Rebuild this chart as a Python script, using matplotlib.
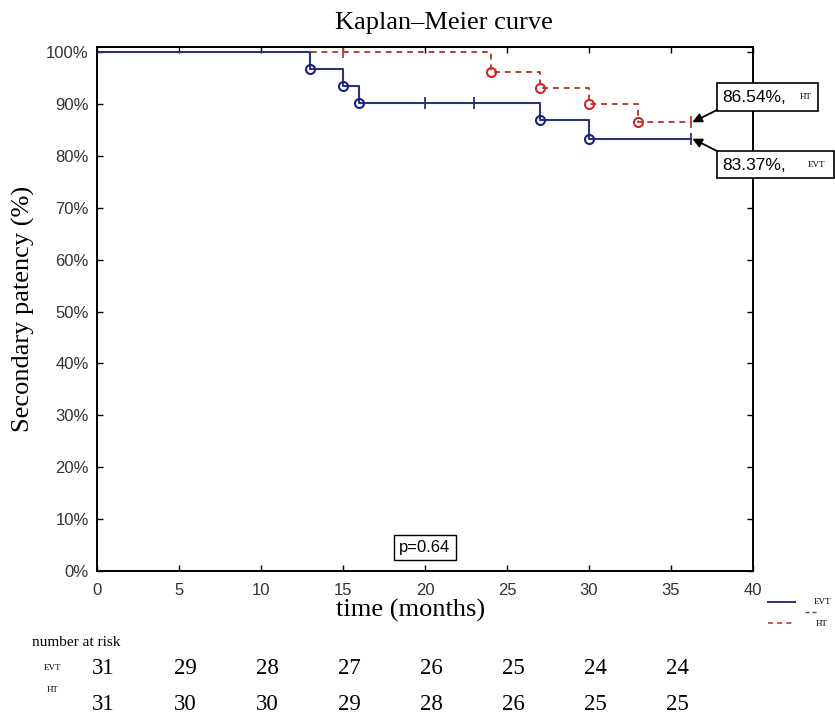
import matplotlib
matplotlib.use('Agg')
import matplotlib.pyplot as plt
from matplotlib.patches import Rectangle
from matplotlib.transforms import blended_transform_factory

# survival curves (Kaplan-Meier)
evt_times = [0, 13, 15, 16, 27, 30]
evt_surv = [100, 96.77, 93.55, 90.32, 86.96, 83.37]
evt_cens_t = [20, 23, 36.2]
evt_end = 36.2

ht_times = [0, 24, 27, 30, 33]
ht_surv = [100, 96.3, 93.2, 90.0, 86.54]
ht_cens_t = [15, 36.2]
ht_end = 36.2

risk_times = [0, 5, 10, 15, 20, 25, 30, 35]
risk_evt = [31, 29, 28, 27, 26, 25, 24, 24]
risk_ht = [31, 30, 30, 29, 28, 26, 25, 25]

W, H = 835, 716
BLUE = '#2c3477'
RED = '#b5403c'
SERIF = ['Liberation Serif', 'DejaVu Serif']
SANS = ['Liberation Sans', 'DejaVu Sans']


def fx(x):
    return x / W


def fy(y):
    return 1 - y / H


def surv_at(times, surv, t):
    s = surv[0]
    for tt, ss in zip(times, surv):
        if tt <= t:
            s = ss
    return s


fig = plt.figure(figsize=(W / 100, H / 100), dpi=100)
ax = fig.add_axes([fx(97), fy(570.7), fx(753) - fx(97), fy(47.3) - fy(570.7)])

# HT (dashed red) first, EVT on top
ax.step(ht_times + [ht_end], ht_surv + [ht_surv[-1]], where='post',
        color=RED, lw=1.4, ls=(0, (3, 2.5)))
ax.plot(ht_times[1:], ht_surv[1:], 'o', ms=6.5, mfc='none', mec='#cc2a2a', mew=1.5)
ax.plot(ht_cens_t, [surv_at(ht_times, ht_surv, t) for t in ht_cens_t], '|',
        color=RED, ms=9, mew=1.3)

ax.step(evt_times + [evt_end], evt_surv + [evt_surv[-1]], where='post',
        color=BLUE, lw=1.5)
ax.plot(evt_times[1:], evt_surv[1:], 'o', ms=6.5, mfc='none', mec='#1c1f8a', mew=1.5)
ax.plot(evt_cens_t, [surv_at(evt_times, evt_surv, t) for t in evt_cens_t], '|',
        color=BLUE, ms=9, mew=1.3)

ax.set_xlim(0, 40)
ax.set_ylim(0, 101)
ax.set_xticks(range(0, 41, 5))
ax.set_yticks(range(0, 101, 10))
ax.set_yticklabels(['{0}%'.format(v) for v in range(0, 101, 10)])
ax.tick_params(direction='in', length=4, width=1, top=True, right=True,
               labelsize=12, labelcolor='#333333', pad=6)
ax.tick_params(axis='x', pad=9)
for lab in ax.get_xticklabels() + ax.get_yticklabels():
    lab.set_family(SANS)
for sp in ax.spines.values():
    sp.set_linewidth(1.4)

fig.text(fx(444), fy(23), 'Kaplan\u2013Meier curve', family=SERIF, size=19,
         ha='center', va='center')
ax.set_ylabel('Secondary patency (%)', family=SERIF, size=19, labelpad=8)
fig.text(fx(411), fy(610), 'time (months)', family=SERIF, size=19,
         ha='center', va='center')

# p-value box
ax.text(20, 4.5, 'p=0.64', family=SANS, size=12, ha='center', va='center',
        bbox=dict(boxstyle='square,pad=0.3', fc='white', ec='black', lw=1))

# labelled boxes with arrows
fig.patches.append(Rectangle((fx(717), fy(111)), fx(818) - fx(717), fy(83) - fy(111),
                             transform=fig.transFigure, fill=True, fc='white',
                             ec='black', lw=1.2))
fig.text(fx(722), fy(97), '86.54%,', family=SANS, size=12.5, va='center')
fig.text(fx(806), fy(97), 'HT', family=SERIF, size=6.5, ha='center', va='center')
fig.patches.append(Rectangle((fx(717), fy(178)), fx(834) - fx(717), fy(151) - fy(178),
                             transform=fig.transFigure, fill=True, fc='white',
                             ec='black', lw=1.2))
fig.text(fx(722), fy(165), '83.37%,', family=SANS, size=12.5, va='center')
fig.text(fx(817), fy(165), 'EVT', family=SERIF, size=6.5, ha='center', va='center')

ax.annotate('', xy=(ht_end + 0.1, ht_surv[-1]), xycoords='data',
            xytext=(fx(717), fy(110)), textcoords='figure fraction',
            arrowprops=dict(arrowstyle='-|>', color='black', lw=1.3,
                            mutation_scale=14, shrinkA=0, shrinkB=0))
ax.annotate('', xy=(evt_end + 0.1, evt_surv[-1]), xycoords='data',
            xytext=(fx(717), fy(151)), textcoords='figure fraction',
            arrowprops=dict(arrowstyle='-|>', color='black', lw=1.3,
                            mutation_scale=14, shrinkA=0, shrinkB=0))

# legend at bottom right
fig.add_artist(plt.Line2D([fx(768), fx(795)], [fy(602), fy(602)], color=BLUE, lw=1.4))
fig.text(fx(823), fy(602), 'EVT', family=SERIF, size=6.5, ha='center', va='center')
fig.add_artist(plt.Line2D([fx(805), fx(818)], [fy(612), fy(612)], color='#555555',
                          lw=1, ls=(0, (3, 2))))
fig.add_artist(plt.Line2D([fx(768), fx(795)], [fy(623), fy(623)], color=RED, lw=1.2,
                          ls=(0, (3, 2.5))))
fig.text(fx(822), fy(624), 'HT', family=SERIF, size=6.5, ha='center', va='center')

# number at risk table
trans = blended_transform_factory(ax.transData, fig.transFigure)
fig.text(fx(32), fy(643), 'number at risk', family=SERIF, size=11, va='center')
fig.text(fx(53), fy(668), 'EVT', family=SERIF, size=6.5, ha='center', va='center')
fig.text(fx(53), fy(690), 'HT', family=SERIF, size=6.5, ha='center', va='center')
for t, a, b in zip(risk_times, risk_evt, risk_ht):
    ax.text(t + 0.4, fy(668), str(a), transform=trans, family=SERIF, size=16.5,
            ha='center', va='center', clip_on=False)
    ax.text(t + 0.4, fy(704), str(b), transform=trans, family=SERIF, size=16.5,
            ha='center', va='center', clip_on=False)

fig.savefig('out.png', dpi=100, facecolor='white')
